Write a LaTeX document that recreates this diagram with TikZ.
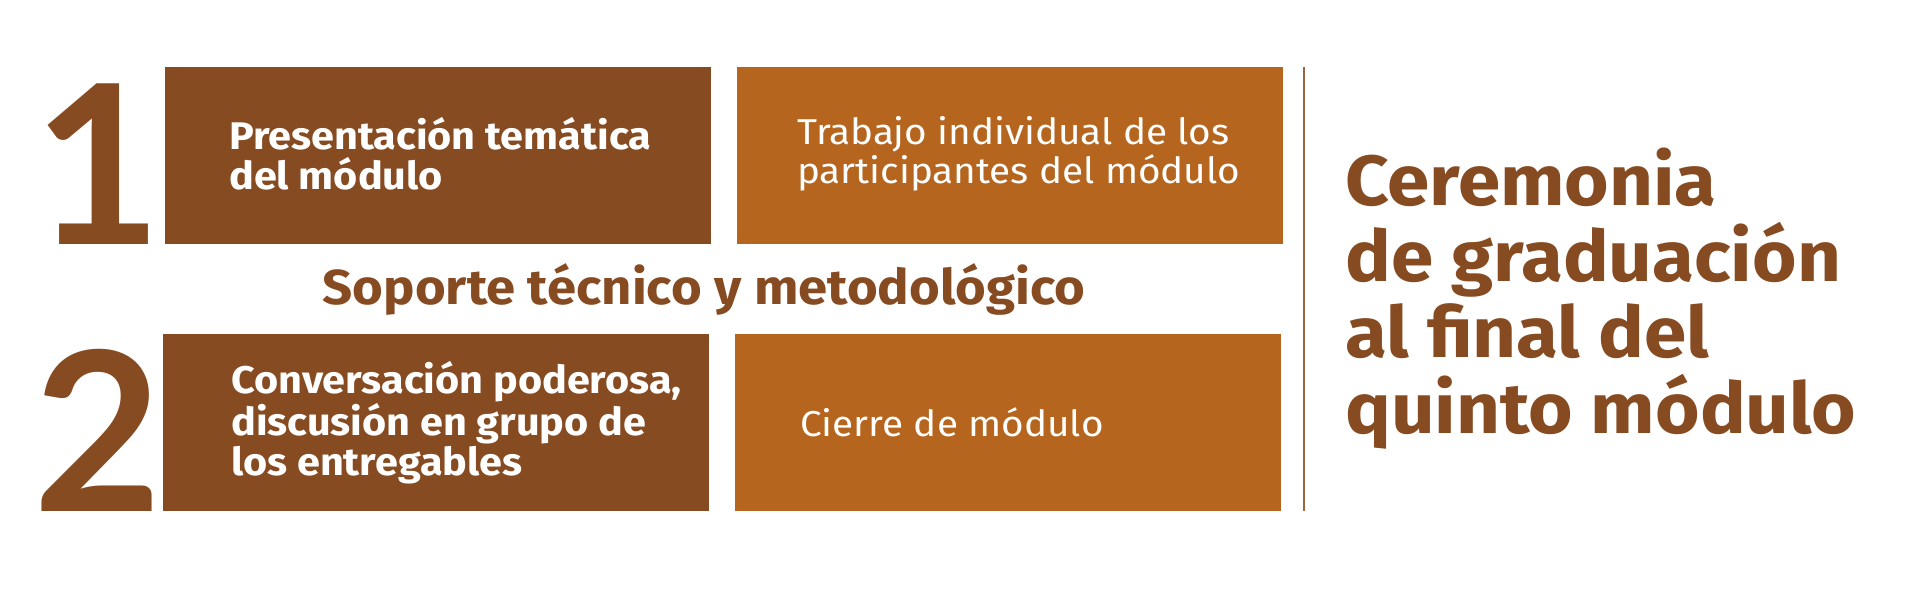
\documentclass[tikz,border=0pt]{standalone}
\usepackage{fontspec}
\setmainfont{Fira Sans}[FakeStretch=1.075]
\newfontfamily\numfont{Lato}
\usetikzlibrary{calc}
\definecolor{darkbrown}{HTML}{874B22}
\definecolor{orangebrown}{HTML}{B5651E}
\definecolor{rulebrown}{HTML}{9A6640}
\tikzset{
  box/.style={rectangle, inner sep=0pt, outer sep=0pt, anchor=north west,
    minimum width=546pt, minimum height=177pt},
  darkbox/.style={box, fill=darkbrown},
  lightbox/.style={box, fill=orangebrown},
  boldtxt/.style={inner sep=0pt, anchor=west, align=left, text=white,
    font=\bfseries\fontsize{38.5}{40}\selectfont},
  lighttxt/.style={inner sep=0pt, anchor=west, align=left, text=white,
    font=\fontsize{36}{39}\selectfont},
  bignum/.style={inner sep=0pt, anchor=base west, text=darkbrown,
    font=\numfont\bfseries\fontsize{222}{222}\selectfont},
}
\begin{document}
\begin{tikzpicture}[x=1pt,y=-1pt]
\useasboundingbox (0,0) rectangle (1920,604);
\fill[white] (0,0) rectangle (1920,604);
% big numbers (behind boxes)
\node[bignum] (n1) at (33,244) {1};
\node[bignum] (n2) at (33,511) {2};
% boxes
\node[darkbox] (b1) at (165,67) {};
\node[lightbox] (b2) at (737,67) {};
\node[darkbox] (b3) at (163,334) {};
\node[lightbox] (b4) at (735,334) {};
% texts in boxes
\node[boldtxt] (t1) at ($(b1.west)+(64,-2)$) {Presentación temática\\del módulo};
\node[lighttxt] (t2) at ($(b2.west)+(60,-2)$) {Trabajo individual de los\\participantes del módulo};
\node[boldtxt] (t3) at ($(b3.west)+(68,0)$) {Conversación poderosa,\\discusión en grupo de\\los entregables};
\node[lighttxt] (t4) at ($(b4.west)+(65,0)$) {Cierre de módulo};
% middle label
\node[inner sep=0pt, anchor=base, text=darkbrown, font=\bfseries\fontsize{49}{50}\selectfont] (mid) at (704,304) {Soporte técnico y metodológico};
% vertical rule
\coordinate (r1) at (1304,67);
\coordinate (r2) at (1304,511);
\draw[rulebrown, line width=2pt] (r1) -- (r2);
% right title
\node[inner sep=0pt, anchor=west, align=left, text=darkbrown, font=\bfseries\fontsize{71}{76}\selectfont] (cer) at (1345,299) {Ceremonia\\de graduación\\al final del\\quinto módulo};
\end{tikzpicture}
\end{document}
